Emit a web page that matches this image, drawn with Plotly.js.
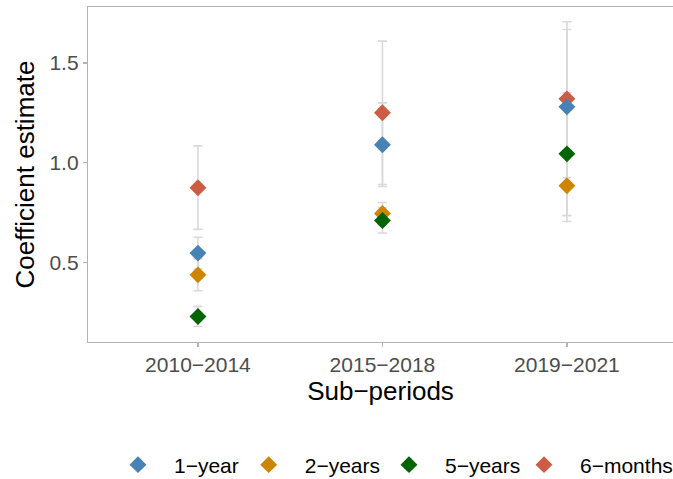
<!DOCTYPE html>
<html>
<head>
<meta charset="utf-8">
<script src="https://cdn.plot.ly/plotly-3.0.1.min.js"></script>
<style>html,body{margin:0;padding:0;overflow:hidden;background:#fff}</style>
</head>
<body>
<div id="chart" style="width:673px;height:479px"></div>
<script>
const periods = ["2010−2014", "2015−2018", "2019−2021"];
const seriesNames = ["1−year", "2−years", "5−years", "6−months"];

const est_1year = [0.546, 1.09, 1.28];
const lo_1year  = [0.466, 0.88, 0.892];
const hi_1year  = [0.626, 1.30, 1.668];

const est_2years = [0.437, 0.745, 0.884];
const lo_2years  = [0.357, 0.69, 0.705];
const hi_2years  = [0.517, 0.80, 1.063];

const est_5years = [0.228, 0.71, 1.044];
const lo_5years  = [0.178, 0.647, 0.734];
const hi_5years  = [0.279, 0.773, 1.35];

const est_6months = [0.874, 1.25, 1.32];
const lo_6months  = [0.665, 0.89, 0.925];
const hi_6months  = [1.084, 1.61, 1.707];

const colors = ["#4682B4", "#CD8500", "#006400", "#CD5C45"];

const series = [
  {name: seriesNames[0], est: est_1year, lo: lo_1year, hi: hi_1year, color: colors[0], rank: 1, lw: 53.7},
  {name: seriesNames[1], est: est_2years, lo: lo_2years, hi: hi_2years, color: colors[1], rank: 2, lw: 63.3},
  {name: seriesNames[2], est: est_5years, lo: lo_5years, hi: hi_5years, color: colors[2], rank: 3, lw: 58},
  {name: seriesNames[3], est: est_6months, lo: lo_6months, hi: hi_6months, color: colors[3], rank: 4, lw: 88}
];

const traces = [];
// error bars first (behind all points)
series.forEach(s => {
  traces.push({
    type: 'scatter', mode: 'markers', x: periods, y: s.est,
    marker: {size: 1, color: 'rgba(0,0,0,0)'},
    showlegend: false, hoverinfo: 'skip',
    error_y: {
      type: 'data', symmetric: false,
      array: s.hi.map((h, i) => h - s.est[i]),
      arrayminus: s.lo.map((l, i) => s.est[i] - l),
      color: '#D9D9D9', thickness: 1.6, width: 4.5
    }
  });
});
// points: drawing order 6-months, 2-years, 5-years, 1-year
[3, 1, 2, 0].forEach(k => {
  const s = series[k];
  traces.push({
    type: 'scatter', mode: 'markers', x: periods, y: s.est, name: s.name,
    legendrank: s.rank, legendwidth: s.lw,
    marker: {symbol: 'diamond', size: 13, color: s.color, line: {width: 0}}
  });
});

const layout = {
  width: 673, height: 479,
  margin: {l: 88, r: 0, t: 7, b: 137},
  paper_bgcolor: '#fff', plot_bgcolor: '#fff',
  font: {family: 'Liberation Sans, Arial, sans-serif', color: '#000'},
  showlegend: true,
  xaxis: {
    type: 'category', range: [-0.596, 2.575],
    showgrid: false, zeroline: false,
    showline: true, mirror: true, linecolor: '#B3B3B3', linewidth: 1.2,
    ticks: 'outside', ticklen: 4, tickcolor: '#B3B3B3', tickwidth: 1.2,
    tickfont: {size: 21, color: '#4D4D4D'},
    title: {text: 'Sub−periods', font: {size: 26, color: '#000'}, standoff: 6}
  },
  yaxis: {
    range: [0.10, 1.781],
    tickvals: [0.5, 1.0, 1.5], ticktext: ['0.5', '1.0', '1.5'],
    showgrid: false, zeroline: false,
    showline: true, mirror: false, linecolor: '#B3B3B3', linewidth: 1.2,
    ticks: 'outside', ticklen: 4, tickcolor: '#B3B3B3', tickwidth: 1.2,
    tickfont: {size: 21, color: '#4D4D4D'},
    title: {text: 'Coefficient estimate', font: {size: 26, color: '#000'}, standoff: 7}
  },
  legend: {
    orientation: 'h', x: 0.0258, xanchor: 'left',
    yref: 'container', y: 0.0292, yanchor: 'middle',
    font: {size: 21, color: '#000'},
    itemwidth: 62, traceorder: 'normal',
    bgcolor: 'rgba(0,0,0,0)'
  }
};

Plotly.newPlot('chart', traces, layout, {displayModeBar: false, staticPlot: true});
</script>
</body>
</html>
